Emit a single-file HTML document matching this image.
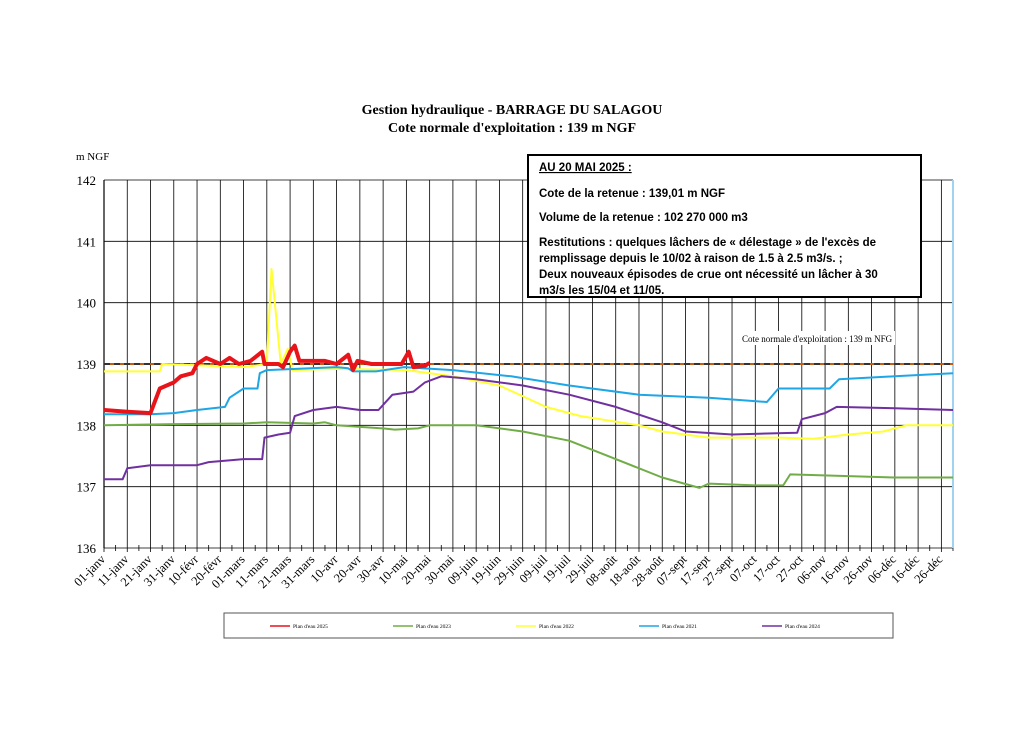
<!DOCTYPE html>
<html><head><meta charset="utf-8">
<style>
body{margin:0;background:#fff;}
svg text{font-family:"Liberation Serif",serif;}
</style></head>
<body>
<svg width="1024" height="724" viewBox="0 0 1024 724" xmlns="http://www.w3.org/2000/svg">
<text x="512" y="114" text-anchor="middle" font-size="14" font-weight="bold">Gestion hydraulique - BARRAGE DU SALAGOU</text>
<text x="512" y="132" text-anchor="middle" font-size="14" font-weight="bold">Cote normale d'exploitation : 139 m NGF</text>
<text x="76" y="160" font-size="11">m NGF</text>
<g id="grid"></g>
<g id="series"></g>
<g id="xlabels"></g>
<rect x="528" y="155" width="393" height="142" fill="#fff" stroke="#000" stroke-width="2"/>
<g font-size="11.5" font-weight="bold">
<text x="539" y="171" text-decoration="underline" style="font-family:'Liberation Sans',sans-serif">AU 20 MAI 2025 :</text>
<text x="539" y="197" style="font-family:'Liberation Sans',sans-serif">Cote de la retenue : 139,01 m NGF</text>
<text x="539" y="221" style="font-family:'Liberation Sans',sans-serif">Volume de la retenue : 102 270 000 m3</text>
<text x="539" y="246" style="font-family:'Liberation Sans',sans-serif">Restitutions : quelques lâchers de « délestage » de l'excès de</text>
<text x="539" y="262" style="font-family:'Liberation Sans',sans-serif">remplissage depuis le 10/02 à raison de 1.5 à 2.5 m3/s. ;</text>
<text x="539" y="278" style="font-family:'Liberation Sans',sans-serif">Deux nouveaux épisodes de crue ont nécessité un lâcher à 30</text>
<text x="539" y="294" style="font-family:'Liberation Sans',sans-serif">m3/s les 15/04 et 11/05.</text>
</g>
<rect x="740" y="331" width="155" height="14" fill="#fff"/>
<text x="742" y="342" font-size="9">Cote normale d'exploitation : 139 m NFG</text>
<rect x="224" y="613" width="669" height="25" fill="#fff" stroke="#555" stroke-width="1"/>
<g id="legend"></g>
</svg>
<script>
const yTicks=[136,137,138,139,140,141,142];
const xLabels=["01-janv","11-janv","21-janv","31-janv","10-févr","20-févr","01-mars","11-mars","21-mars","31-mars","10-avr","20-avr","30-avr","10-mai","20-mai","30-mai","09-juin","19-juin","29-juin","09-juil","19-juil","29-juil","08-août","18-août","28-août","07-sept","17-sept","27-sept","07-oct","17-oct","27-oct","06-nov","16-nov","26-nov","06-déc","16-déc","26-déc"];
const normalLevel=139;
const seriesNames=["Plan d'eau 2025","Plan d'eau 2023","Plan d'eau 2022","Plan d'eau 2021","Plan d'eau 2024"];
const seriesColors=["#e8141a","#70ad47","#ffff33","#1ea6e6","#7030a0"];
const s2025=[[0,138.25],[10,138.22],[20,138.2],[24,138.6],[30,138.7],[33,138.8],[38,138.85],[40,139.0],[44,139.1],[50,139.0],[54,139.1],[58,139.0],[63,139.05],[68,139.2],[69,139.0],[75,139.0],[77,138.95],[80,139.2],[82,139.3],[84,139.05],[95,139.05],[100,139.0],[105,139.15],[107,138.9],[109,139.05],[115,139.0],[128,139.0],[131,139.2],[133,138.95],[138,138.97],[140,139.02]];
const s2023=[[0,138.0],[30,138.02],[60,138.03],[70,138.05],[90,138.03],[95,138.05],[100,138.0],[120,137.95],[125,137.93],[135,137.95],[140,138.0],[160,138.0],[180,137.9],[200,137.75],[220,137.45],[240,137.15],[256,136.98],[260,137.05],[280,137.02],[292,137.02],[295,137.2],[340,137.15],[365,137.15]];
const s2022=[[0,138.88],[24,138.88],[25,139.0],[40,138.98],[60,138.95],[70,139.0],[72,140.55],[76,139.0],[79,139.25],[81,138.9],[100,138.92],[130,138.9],[150,138.8],[170,138.65],[190,138.3],[205,138.15],[230,138.0],[240,137.9],[260,137.8],[290,137.8],[305,137.78],[320,137.85],[335,137.9],[345,138.0],[365,138.0]];
const s2021=[[0,138.18],[20,138.18],[30,138.2],[40,138.25],[52,138.3],[54,138.45],[60,138.6],[66,138.6],[67,138.85],[70,138.9],[100,138.95],[105,138.93],[107,138.88],[117,138.88],[129,138.95],[150,138.9],[175,138.8],[200,138.65],[230,138.5],[260,138.45],[285,138.38],[290,138.6],[312,138.6],[316,138.75],[340,138.8],[365,138.85]];
const s2024=[[0,137.12],[8,137.12],[10,137.3],[20,137.35],[40,137.35],[45,137.4],[60,137.45],[68,137.45],[69,137.8],[75,137.85],[80,137.88],[82,138.15],[90,138.25],[100,138.3],[110,138.25],[118,138.25],[124,138.5],[133,138.55],[138,138.7],[145,138.8],[160,138.75],[180,138.65],[200,138.5],[220,138.3],[240,138.05],[250,137.9],[270,137.85],[298,137.88],[300,138.1],[310,138.2],[315,138.3],[340,138.28],[365,138.25]];
const allSeries=[s2025,s2023,s2022,s2021,s2024];
const widths=[4,2,2,2,2];

const NS="http://www.w3.org/2000/svg";
const X0=104,X1=953,Y0=548,Y1=180;
function xS(d){return X0+d*(X1-X0)/365;}
function yS(v){return Y0-(v-136)*(Y0-Y1)/6;}
function mk(tag,attrs,parent){const e=document.createElementNS(NS,tag);for(const k in attrs)e.setAttribute(k,attrs[k]);parent.appendChild(e);return e;}
const grid=document.getElementById('grid');
yTicks.forEach(v=>{
 const l=mk('line',{x1:X0,x2:X1,y1:yS(v),y2:yS(v),stroke:'#000','stroke-width':0.8},grid);
 
 
 const t=mk('text',{x:X0-8,y:yS(v)+5,'text-anchor':'end','font-size':13},grid);
 t.textContent=v;
 
 
});
const xl=document.getElementById('xlabels');
xLabels.forEach((lab,i)=>{
 const x=xS(i*10);
 const l=mk('line',{x1:x,x2:x,y1:Y1,y2:Y0+4,stroke:'#000','stroke-width':0.8},grid);
 
 
 mk('line',{x1:xS(i*10+5),x2:xS(i*10+5),y1:Y0-3,y2:Y0+3,stroke:'#000','stroke-width':0.8},grid);
 const t=mk('text',{x:x+2,y:Y0+12,'text-anchor':'end','font-size':12.5,transform:`rotate(-45 ${x+2} ${Y0+12})`},xl);
 t.textContent=lab;
 
 
});
mk('line',{x1:X1,x2:X1,y1:Y1,y2:Y0,stroke:'#9fd3ef','stroke-width':2},grid);
mk('line',{x1:X0,x2:X0,y1:Y1,y2:Y0,stroke:'#000','stroke-width':1.2},grid);
const sg=document.getElementById('series');
const nl=mk('line',{x1:X0,x2:X1,y1:yS(normalLevel),y2:yS(normalLevel),stroke:'#c55a11','stroke-width':2},sg);


mk('line',{x1:X0,x2:X1,y1:yS(normalLevel),y2:yS(normalLevel),stroke:'#333','stroke-width':2,'stroke-dasharray':'6 4'},sg);
const order=[1,2,3,4,0];
order.forEach(i=>{
 const pts=allSeries[i].map(p=>xS(p[0]).toFixed(1)+','+yS(p[1]).toFixed(1)).join(' ');
 const pl=mk('polyline',{points:pts,fill:'none',stroke:seriesColors[i],'stroke-width':widths[i],'stroke-linejoin':'round'},sg);
 
 
});
const lg=document.getElementById('legend');
seriesNames.forEach((n,i)=>{
 const x=270+i*123;
 mk('line',{x1:x,x2:x+20,y1:626,y2:626,stroke:seriesColors[i],'stroke-width':1.5},lg);
 const t=mk('text',{x:x+23,y:628,'font-size':5.5},lg);
 t.textContent=n;
 
 
});
</script>
</body></html>
